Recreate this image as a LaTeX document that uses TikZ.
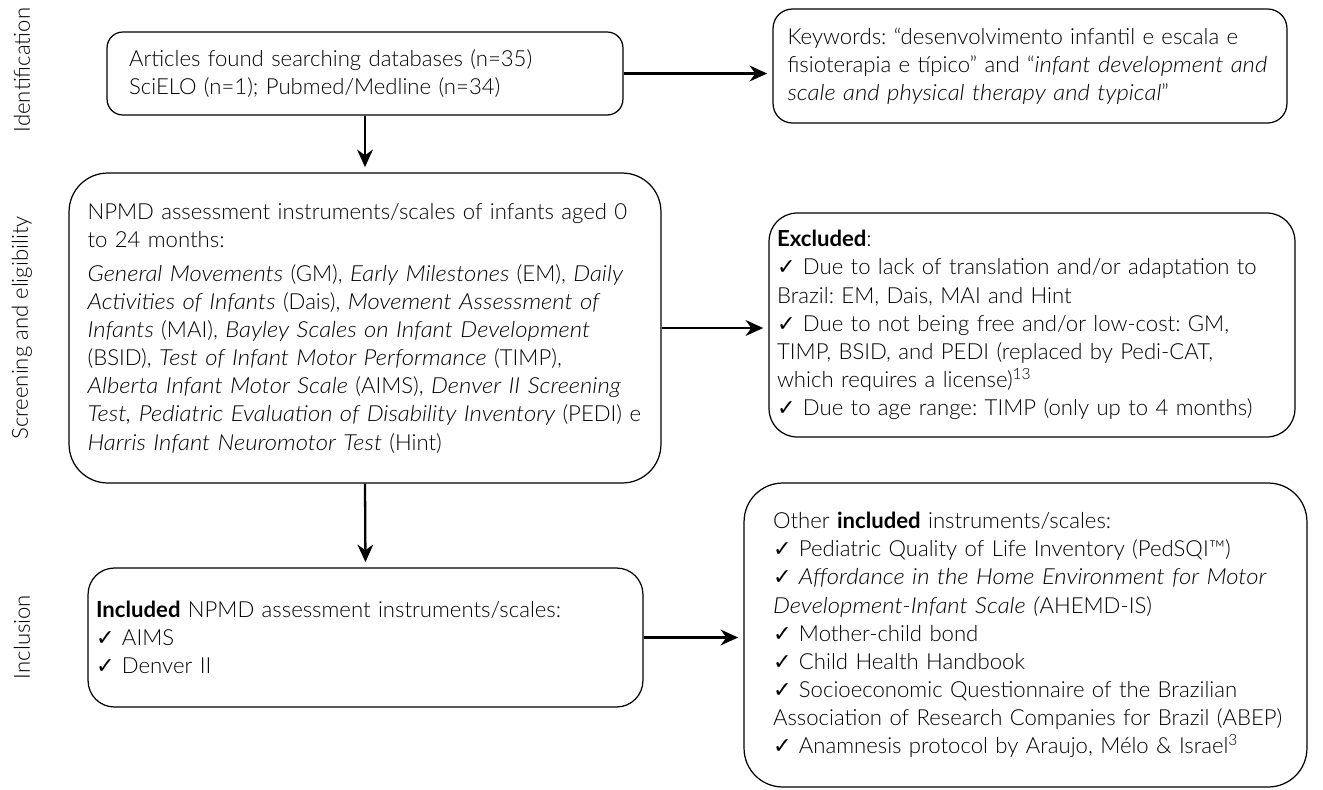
\documentclass[tikz,border=0pt]{standalone}
\usepackage{fontspec}
\IfFontExistsTF{Lato Light}
  {\setmainfont{Lato Light}[ItalicFont={Lato Light Italic}, ItalicFeatures={FakeStretch=1.08}, BoldFont={Lato Bold}, BoldItalicFont={Lato Bold Italic}]
   \newcommand{\fsize}{\fontsize{12.6pt}{16pt}\selectfont}}
  {\setmainfont{Fira Sans}
   \newcommand{\fsize}{\fontsize{12pt}{16pt}\selectfont}}
\newfontfamily\symfont{DejaVu Sans}
\usepackage{tikz}
\usetikzlibrary{arrows.meta}
\newcommand{\chk}{{\symfont\bfseries ✓}\ }
\frenchspacing

\begin{document}
\begin{tikzpicture}[
  x=0.02cm, y=-0.02cm,
  box/.style={draw, line width=0.7pt, inner sep=0pt, align=left, font=\fsize},
  arrow/.style={-{Stealth[length=10pt, width=9pt]}, line width=1.3pt, shorten >=3pt},
  phase/.style={rotate=90, font=\fsize},
]
\useasboundingbox (0,0) rectangle (1323,789);

% Phases
\node[phase] (p_id) at (22,70) {Identification};
\node[phase] (p_scr) at (22,328) {Screening and eligibility};
\node[phase] (p_inc) at (22,637) {Inclusion};

% Identification
\node[box, rounded corners=9pt, minimum width=10.32cm, minimum height=1.66cm, text width=9.44cm] (art) at (365,73.5)
  {Articles found searching databases (n=35)\\ SciELO (n=1); Pubmed/Medline (n=34)};
\node[box, rounded corners=11pt, minimum width=10.28cm, minimum height=2.28cm, text width=9.7cm] (kw) at (1030,66)
  {Keywords: “desenvolvimento infantil e escala e\\ \mbox{fisioterapia e típico” and “\textit{infant development and}}\\ \textit{scale and physical therapy and typical}”};

% Screening and eligibility
\node[box, rounded corners=22pt, minimum width=11.84cm, minimum height=6.2cm, text width=11.1cm] (npmd) at (365,328)
  {NPMD assessment instruments/scales of infants aged 0\\ to 24 months:\\[3.4pt]
   \textit{General Movements} (GM), \textit{Early Milestones} (EM), \textit{Daily}\\
   \textit{Activities of Infants} (Dais), \textit{Movement Assessment of}\\
   \textit{Infants} (MAI), \textit{Bayley Scales on Infant Development}\\
   (BSID), \textit{Test of Infant Motor Performance} (TIMP),\\
   \textit{Alberta Infant Motor Scale} (AIMS), \textit{Denver II Screening}\\
   \mbox{\textit{Test, Pediatric Evaluation of Disability Inventory} (PEDI) e}\\
   \textit{Harris Infant Neuromotor Test} (Hint)};
\node[box, rounded corners=16pt, minimum width=10.52cm, minimum height=4.48cm, text width=10.2cm] (excl) at (1032,325)
  {\textbf{Excluded}:\\
   \chk Due to lack of translation and/or adaptation to\\
   Brazil: EM, Dais, MAI and Hint\\
   \chk Due to not being free and/or low-cost: GM,\\
   TIMP, BSID, and PEDI (replaced by Pedi-CAT,\\
   which requires a license)\textsuperscript{13}\\
   \chk Due to age range: TIMP (only up to 4 months)};

% Inclusion
\node[box, rounded corners=15pt, minimum width=11.1cm, minimum height=2.78cm, text width=10.78cm] (incl) at (365.5,637.5)
  {\textbf{Included} NPMD assessment instruments/scales:\\ \chk AIMS\\ \chk Denver II};
\node[box, rounded corners=22pt, minimum width=11.26cm, minimum height=6.08cm, text width=10.1cm] (other) at (1025.5,635)
  {Other \textbf{included} instruments/scales:\\
   \chk Pediatric Quality of Life Inventory (PedSQI™)\\
   \chk \textit{Affordance in the Home Environment for Motor}\\
   \textit{Development-Infant Scale (}AHEMD-IS)\\
   \chk Mother-child bond\\
   \chk Child Health Handbook\\
   \chk Socioeconomic Questionnaire of the Brazilian\\
   \mbox{Association of Research Companies for Brazil (ABEP)}\\
   \chk Anamnesis protocol by Araujo, Mélo \& Israel\textsuperscript{3}};

\draw[arrow] (art.east) -- (art.east -| kw.west);
\draw[arrow] (art.south) -- (npmd.north);
\draw[arrow] (npmd.east) -- (npmd.east -| excl.west);
\draw[arrow] (npmd.south) -- (incl.north);
\draw[arrow] (incl.east) -- (incl.east -| other.west);

\end{tikzpicture}
\end{document}
